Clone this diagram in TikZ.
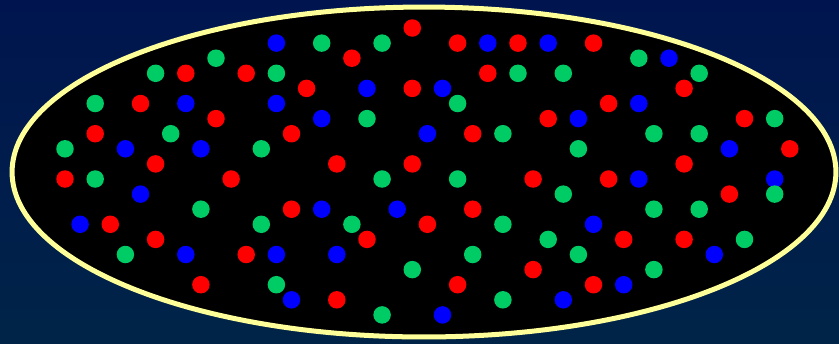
\documentclass[tikz,border=0pt]{standalone}
\usepackage{tikz}
\usetikzlibrary{positioning}
\definecolor{skyTop}{HTML}{00154F}
\definecolor{skyBot}{HTML}{002448}
\definecolor{rimYellow}{HTML}{FFFF99}
\definecolor{dotRed}{HTML}{FF0000}
\definecolor{dotBlue}{HTML}{0000FF}
\definecolor{dotGreen}{HTML}{00CC66}
\begin{document}
\begin{tikzpicture}[x=0.02cm, y=-0.02cm,
  dot/.style={circle,minimum size=0.35cm,inner sep=0pt}]
  \useasboundingbox (0,0) rectangle (839,343);
  \shade[top color=skyTop, bottom color=skyBot] (0,0) rectangle (839,343);
% --- the set ---
  \coordinate (mid) at (424,172);
  \draw[rimYellow,fill=black,line width=2.85pt] (mid) ellipse [x radius=8.24cm, y radius=3.3cm];
% --- dots on a 15.1px grid ---
  \foreach \i/\j [count=\n] in {23/0,26/1,30/1,35/1,19/2,8/3,12/3,28/3,16/4,23/4,41/4,5/5,36/5,
      10/6,32/6,45/6,2/7,15/7,27/7,48/8,6/9,18/9,23/9,41/9,0/10,11/10,31/10,36/10,44/11,
      15/12,27/12,3/13,24/13,6/14,20/14,37/14,41/14,12/15,31/16,9/17,26/17,35/17,18/18}
    \node[dot,fill=dotRed] (r\n) at (65+15.1*\i,28+15.1*\j) {};
  \foreach \i/\j [count=\n] in {14/1,28/1,32/1,40/2,20/4,25/4,8/5,14/5,38/5,17/6,34/6,24/7,
      4/8,9/8,44/8,38/10,47/10,5/11,17/12,22/12,1/13,35/13,8/15,14/15,18/15,43/15,37/17,
      15/18,33/18,25/19}
    \node[dot,fill=dotBlue] (b\n) at (65+15.1*\i,28+15.1*\j) {};
  \foreach \i/\j [count=\n] in {17/1,21/1,10/2,38/2,6/3,14/3,30/3,33/3,42/3,2/5,26/5,20/6,
      47/6,7/7,29/7,39/7,42/7,0/8,13/8,34/8,2/10,21/10,26/10,33/11,47/11,9/12,39/12,42/12,
      13/13,19/13,29/13,32/14,45/14,4/15,27/15,34/15,23/16,39/16,14/17,29/18,21/19}
    \node[dot,fill=dotGreen] (g\n) at (65+15.1*\i,28+15.1*\j) {};
\end{tikzpicture}
\end{document}
